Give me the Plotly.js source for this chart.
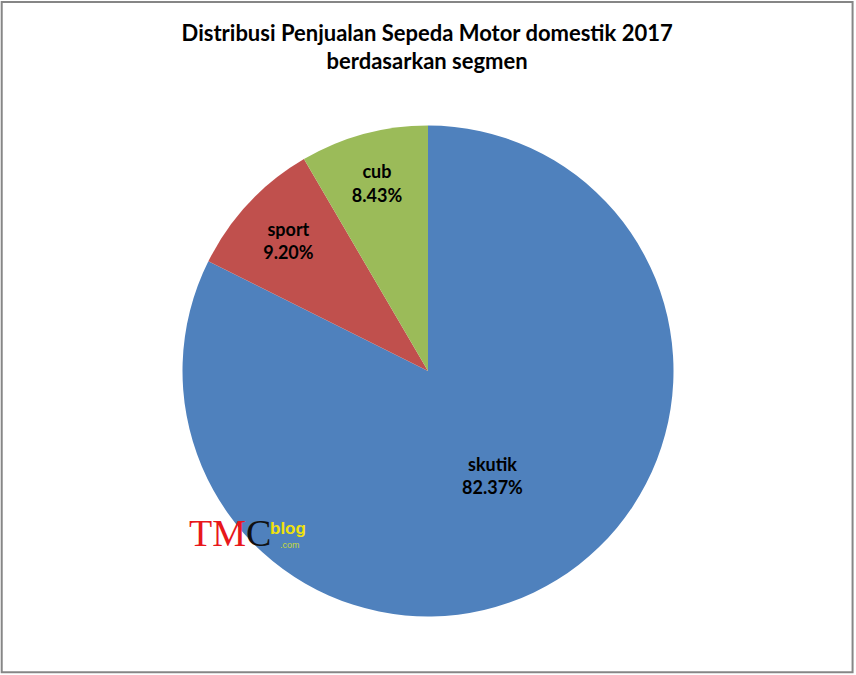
<!DOCTYPE html>
<html>
<head>
<meta charset="utf-8">
<script src="https://cdn.plot.ly/plotly-3.0.1.min.js"></script>
<style>
  body { margin: 0; background: #fff; }
  #chart { width: 856px; height: 675px; }
</style>
</head>
<body>
<div id="chart"></div>
<script>
// segment shares
var segmen = ['skutik', 'sport', 'cub'];
var persen = [82.37, 9.20, 8.43];
var warna = ['#4F81BD', '#C0504D', '#9BBB59'];

var judul = 'Distribusi Penjualan Sepeda Motor domestik 2017<br>berdasarkan segmen';

var trace = {
  type: 'pie',
  labels: segmen,
  values: persen,
  sort: false,
  direction: 'clockwise',
  rotation: 0,
  marker: { colors: warna, line: { width: 0 } },
  text: persen.map(function(v) { return v.toFixed(2) + '%'; }),
  texttemplate: '<b>%{label}<br>%{text}</b>',
  textposition: 'inside',
  insidetextorientation: 'horizontal',
  textfont: { family: 'Lato, "Liberation Sans", sans-serif', size: 18, color: '#000' },
  hoverinfo: 'label+percent',
  showlegend: false,
  domain: { x: [0.2132, 0.7868], y: [0.0867, 0.8141] }
};

var layout = {
  width: 856,
  height: 675,
  margin: { l: 0, r: 0, t: 0, b: 0 },
  paper_bgcolor: '#fff',
  title: {
    text: '<b>' + judul + '</b>',
    font: { family: 'Lato, "Liberation Sans", sans-serif', size: 22, color: '#000' },
    x: 0.499, xanchor: 'center', xref: 'container',
    y: 0.94, yanchor: 'top', yref: 'container'
  },
  shapes: [{
    type: 'rect', xref: 'paper', yref: 'paper',
    x0: 0.002, x1: 0.996, y0: 0.004, y1: 0.997,
    line: { color: '#868686', width: 2 }
  }],
  // TMC blog watermark
  annotations: [
    { xref: 'paper', yref: 'paper', x: 0.218, y: 0.21, xanchor: 'left', yanchor: 'middle',
      showarrow: false,
      text: '<span style="color:#E8171B">TM</span><span style="color:#111">C</span>',
      font: { family: '"Liberation Serif", serif', size: 38, color: '#111' } },
    { xref: 'paper', yref: 'paper', x: 0.313, y: 0.217, xanchor: 'left', yanchor: 'middle',
      showarrow: false, text: '<b>blog</b>',
      font: { family: '"Liberation Sans", sans-serif', size: 17, color: '#F2E20C' } },
    { xref: 'paper', yref: 'paper', x: 0.325, y: 0.193, xanchor: 'left', yanchor: 'middle',
      showarrow: false, text: '.com',
      font: { family: '"Liberation Sans", sans-serif', size: 9, color: '#C9DB3C' } }
  ]
};

Plotly.newPlot('chart', [trace], layout, { staticPlot: true });
</script>
</body>
</html>
